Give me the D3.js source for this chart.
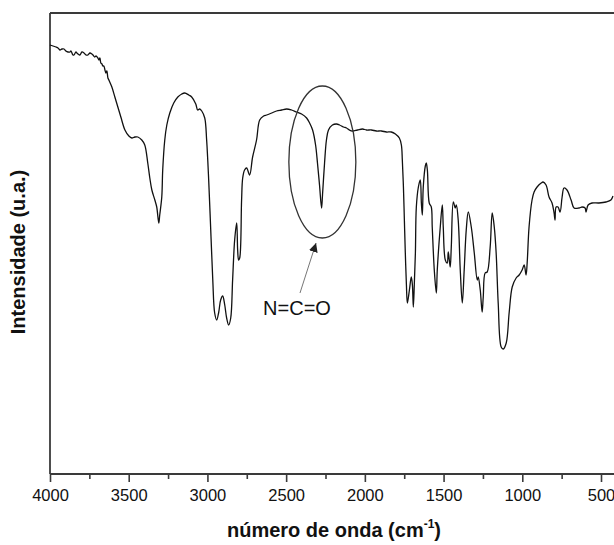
<!DOCTYPE html>
<html>
<head>
<meta charset="utf-8">
<script src="https://cdn.jsdelivr.net/npm/d3@7"></script>
<style>
  html, body { margin: 0; padding: 0; background: #fff; }
  svg { display: block; }
  text { font-family: Arial, "Liberation Sans", sans-serif; }
</style>
</head>
<body>
<svg id="chart" width="614" height="545"></svg>
<script>
// Wavenumbers (cm^-1)
const wavenumber = [4000,3962,3949,3937,3924,3911,3899,3886,3873,3867,3854,3848,3835,3829,3822,3810,3797,3784,3772,3759,3746,3734,3727,3715,3708,3696,3689,3683,3677,3670,3664,3658,3651,3645,3639,3632,3626,3607,3588,3569,3550,3524,3499,3480,3461,3442,3417,3398,3379,3366,3353,3334,3322,3309,3303,3290,3284,3271,3258,3239,3214,3188,3163,3144,3119,3100,3074,3062,3049,3036,3017,3005,2992,2979,2966,2954,2941,2928,2916,2903,2890,2878,2865,2852,2840,2827,2814,2808,2802,2795,2783,2776,2764,2751,2732,2713,2688,2668,2643,2624,2592,2561,2529,2497,2466,2434,2402,2370,2351,2332,2313,2301,2288,2275,2269,2256,2244,2231,2206,2180,2161,2136,2117,2098,2079,2047,2015,1990,1958,1927,1895,1863,1832,1806,1781,1768,1762,1755,1749,1743,1736,1730,1717,1705,1698,1692,1686,1679,1673,1660,1648,1641,1635,1629,1616,1610,1603,1591,1578,1572,1559,1546,1540,1521,1508,1502,1489,1477,1470,1458,1451,1438,1426,1419,1407,1394,1381,1369,1356,1343,1324,1305,1286,1280,1267,1255,1248,1236,1223,1204,1191,1178,1166,1153,1134,1121,1102,1083,1064,1039,1020,1001,988,976,969,957,938,925,906,880,868,849,830,811,798,792,785,773,760,747,735,716,690,671,640,620,601,595,582,557,513,468,437,424];
// Intensity (arbitrary units)
const intensity = [423,421,420,418,419,419,417,416,416,417,413,413,416,415,414,413,416,415,413,413,415,414,413,411,412,410,408,410,405,404,402,402,398,395,397,390,388,381,371,361,351,338,332,330,331,331,328,323,305,290,278,268,261,245,253,271,298,328,343,355,365,371,374,375,373,371,364,358,359,357,350,328,288,238,188,155,148,156,168,172,163,150,143,150,188,228,245,218,208,210,268,290,298,300,293,311,328,348,352,353,355,357,358,359,358,356,354,350,345,338,323,305,283,260,273,305,328,338,343,344,343,341,340,338,337,338,339,338,338,337,337,336,336,334,330,323,308,281,248,215,183,165,178,191,183,161,183,215,261,281,288,265,253,281,302,305,298,265,261,241,198,175,198,241,263,241,208,205,216,201,221,266,260,263,248,198,165,198,238,256,241,215,188,191,178,156,171,195,196,221,255,241,215,165,121,119,125,156,181,190,193,198,203,193,205,241,268,276,281,285,286,283,271,265,255,248,261,261,256,271,280,278,268,260,260,261,260,256,263,265,265,266,268,272];
// Axis ticks
const majorTicks = [4000,3500,3000,2500,2000,1500,1000,500];
const minorTicks = [3750,3250,2750,2250,1750,1250,750];
const xTitle = "número de onda (cm";
const yTitle = "Intensidade (u.a.)";
const annotation = "N=C=O";

(function () {
const svg = d3.select("#chart");
const pLeft = 50, pTop = 13, pBottom = 474;

const x = d3.scaleLinear().domain([4000, 500]).range([pLeft, 601]);
const y = d3.scaleLinear().domain([-6, 455]).range([pBottom, pTop]);
const rightEdge = x(400);

const data = wavenumber.map((w, i) => ({w, v: intensity[i]}));

// frame
const frameColor = "#3a3a3a";
svg.append("line").attr("x1", pLeft).attr("x2", pLeft).attr("y1", pTop).attr("y2", pBottom)
  .attr("stroke", frameColor).attr("stroke-width", 1.8);
svg.append("line").attr("x1", pLeft).attr("x2", rightEdge).attr("y1", pTop).attr("y2", pTop)
  .attr("stroke", frameColor).attr("stroke-width", 1.8);
svg.append("line").attr("x1", rightEdge).attr("x2", rightEdge).attr("y1", pTop).attr("y2", pBottom)
  .attr("stroke", frameColor).attr("stroke-width", 1.8);

// x axis
const xAxis = d3.axisBottom(x).tickValues(majorTicks).tickSize(8).tickPadding(7)
  .tickFormat(d3.format("d"));
const gx = svg.append("g").attr("transform", `translate(0,${pBottom})`).call(xAxis);
gx.select(".domain").attr("d", `M${pLeft},0H${rightEdge}`).attr("stroke", frameColor).attr("stroke-width", 1.8);
gx.selectAll(".tick line").attr("stroke", frameColor).attr("stroke-width", 1.6);
gx.selectAll(".tick text").attr("font-size", 16.5).attr("fill", "#111")
  .attr("font-family", 'Arial, "Liberation Sans", sans-serif');
const xMinor = d3.axisBottom(x).tickValues(minorTicks).tickSize(5).tickFormat("");
const gxm = svg.append("g").attr("transform", `translate(0,${pBottom})`).call(xMinor);
gxm.select(".domain").remove();
gxm.selectAll(".tick line").attr("stroke", frameColor).attr("stroke-width", 1.6);

// spectrum line
const line = d3.line().x(d => x(d.w)).y(d => y(d.v)).curve(d3.curveCatmullRom.alpha(0.5));
svg.append("path").datum(data).attr("d", line)
  .attr("fill", "none").attr("stroke", "#111").attr("stroke-width", 1.3)
  .attr("stroke-linejoin", "round");

// ellipse annotation around N=C=O band
svg.append("ellipse").attr("cx", x(2270)).attr("cy", y(306)).attr("rx", 33.5).attr("ry", 76)
  .attr("fill", "none").attr("stroke", "#333").attr("stroke-width", 1.3);

// arrow
svg.append("defs").append("marker").attr("id", "ah")
  .attr("viewBox", "0 0 10 10").attr("refX", 10).attr("refY", 5)
  .attr("markerWidth", 9).attr("markerHeight", 9).attr("markerUnits", "userSpaceOnUse")
  .attr("orient", "auto")
  .append("path").attr("d", "M0,0L10,5L0,10Z").attr("fill", "#222");
svg.append("line").attr("x1", x(2412)).attr("y1", y(175)).attr("x2", x(2310)).attr("y2", y(225))
  .attr("stroke", "#666").attr("stroke-width", 0.9).attr("marker-end", "url(#ah)");

svg.append("text").attr("x", x(2431)).attr("y", 315).attr("text-anchor", "middle")
  .attr("font-size", 20).attr("fill", "#111").text(annotation);

// axis titles
const xt = svg.append("text").attr("x", 334).attr("y", 537).attr("text-anchor", "middle")
  .attr("font-size", 20).attr("font-weight", "bold").attr("fill", "#111");
xt.append("tspan").text(xTitle);
xt.append("tspan").attr("font-size", 12).attr("dy", -9).text("-1");
xt.append("tspan").attr("dy", 9).text(")");

svg.append("text").attr("transform", "translate(25,252) rotate(-90)")
  .attr("text-anchor", "middle").attr("font-size", 20).attr("font-weight", "bold")
  .attr("fill", "#111").text(yTitle);
})();
</script>
</body>
</html>
